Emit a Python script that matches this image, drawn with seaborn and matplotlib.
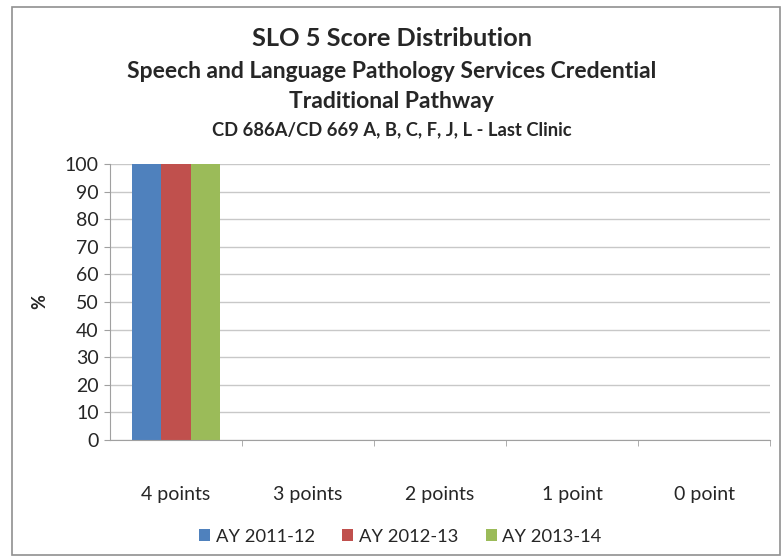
import pandas as pd
import seaborn as sns
import matplotlib.pyplot as plt
from matplotlib.patches import Rectangle

# chart data
categories = ["4 points", "3 points", "2 points", "1 point", "0 point"]
years = ["AY 2011-12", "AY 2012-13", "AY 2013-14"]
ay_2011_12 = [100, 0, 0, 0, 0]
ay_2012_13 = [100, 0, 0, 0, 0]
ay_2013_14 = [100, 0, 0, 0, 0]
colors = ["#4F81BD", "#C0504D", "#9BBB59"]

df = pd.DataFrame({
    "score": categories * 3,
    "pct": ay_2011_12 + ay_2012_13 + ay_2013_14,
    "year": [y for y in years for _ in categories],
})

sns.set_style("white")
plt.rcParams["font.family"] = ["Lato", "DejaVu Sans"]

fig = plt.figure(figsize=(7.83, 5.59), dpi=100)
ax = fig.add_axes([110 / 783, 1 - 440 / 559, 660 / 783, 276 / 559])

sns.barplot(data=df, x="score", y="pct", hue="year", palette=colors,
            width=0.67, saturation=1, linewidth=0, ax=ax, legend=True)

ax.set_ylim(0, 100)
ax.set_yticks(range(0, 101, 10))
ax.set_xlim(-0.5, 4.5)
ax.set_xticks([i + 0.5 for i in range(len(categories))], minor=True)
ax.yaxis.grid(True, color="#c8c8c8", linewidth=1)
ax.set_axisbelow(True)
for s in ["top", "right"]:
    ax.spines[s].set_visible(False)
for s in ["left", "bottom"]:
    ax.spines[s].set_color("#a0a0a0")
ax.tick_params(axis="y", labelsize=14, length=4, color="#a0a0a0", left=True, pad=4)
ax.tick_params(axis="x", labelsize=14, length=0, pad=33)
ax.tick_params(axis="x", which="minor", length=4, color="#a0a0a0", bottom=True)
ax.set_xlabel("")
ax.set_ylabel("%", fontsize=13, fontweight="bold", labelpad=12)

leg = ax.legend(loc="center", bbox_to_anchor=(0.44, -0.35), ncol=3,
                frameon=False, fontsize=13.2, handlelength=0.6, handleheight=0.6,
                handletextpad=0.3, columnspacing=1.5)

# titles
fig.text(0.5, 1 - 38 / 559, "SLO 5 Score Distribution", ha="center", va="center",
         fontsize=18.3, fontweight="bold")
fig.text(0.5, 1 - 72 / 559, "Speech and Language Pathology Services Credential",
         ha="center", va="center", fontsize=16.5, fontweight="bold")
fig.text(0.5, 1 - 101 / 559, "Traditional Pathway", ha="center", va="center",
         fontsize=16.5, fontweight="bold")
fig.text(0.5, 1 - 130 / 559, "CD 686A/CD 669 A, B, C, F, J, L - Last Clinic",
         ha="center", va="center", fontsize=13.2, fontweight="bold")

# chart frame
fig.add_artist(Rectangle((12 / 783, 4 / 559), 768 / 783, 548 / 559,
                         transform=fig.transFigure, fill=False,
                         edgecolor="#909090", linewidth=1.2))

fig.savefig("out.png", dpi=100)
